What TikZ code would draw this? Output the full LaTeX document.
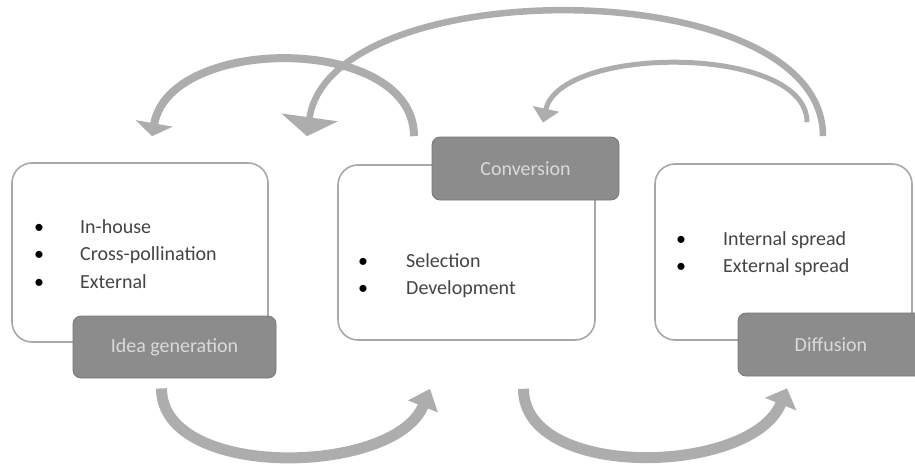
\documentclass[tikz,border=0pt]{standalone}
\usepackage{fontspec}
\setmainfont{Carlito}
\usetikzlibrary{arrows.meta}
\definecolor{boxline}{HTML}{A8A8A8}
\definecolor{labelfill}{HTML}{8C8C8C}
\definecolor{labeltext}{HTML}{DADADA}
\definecolor{flowgray}{HTML}{ADADAD}
\definecolor{listtext}{HTML}{444444}
\begin{document}
\begin{tikzpicture}[
				x=1pt, y=-1pt,                            % one unit = one pixel of the sketch, y going down
				>=Triangle,
				font=\fontsize{20}{27.5}\selectfont,
				stagebox/.style={draw=boxline, line width=1.6pt, rounded corners=20pt, fill=white, inner sep=0pt},
				stagelabel/.style={draw=labelfill!85!black, line width=0.8pt, fill=labelfill, text=labeltext, rounded corners=8pt, inner sep=0pt},
				bulletlist/.style={anchor=base west, inner sep=0pt, align=left, text=listtext},
				flow/.style={draw=flowgray}
				]
				\useasboundingbox (0,0) rectangle (915,463);
				% the three stages
				\node[stagebox, minimum width=256pt, minimum height=179pt] (ideabox) at (140,252.5) {};
				\node[stagebox, minimum width=257pt, minimum height=175pt] (convbox) at (466.5,252.5) {};
				\node[stagebox, minimum width=257pt, minimum height=176pt] (diffbox) at (783.5,252) {};
				% bullet lists
				\node[bulletlist] (idealist) at (34,233) {\begin{tabular}[t]{@{}p{46pt}@{}l@{}}\textcolor{black}{\textbullet} & In-house\\ \textcolor{black}{\textbullet} & Cross-pollination\\ \textcolor{black}{\textbullet} & External\end{tabular}};
				\node[bulletlist] (convlist) at (358,267) {\begin{tabular}[t]{@{}p{48pt}@{}l@{}}\textcolor{black}{\textbullet} & Selection\\ \textcolor{black}{\textbullet} & Development\end{tabular}};
				\node[bulletlist] (difflist) at (676,245) {\begin{tabular}[t]{@{}p{47pt}@{}l@{}}\textcolor{black}{\textbullet} & Internal spread\\ \textcolor{black}{\textbullet} & External spread\end{tabular}};
				% grey tabs
				\node[stagelabel, minimum width=203pt, minimum height=62pt] (idealabel) at (174.5,347) {Idea generation};
				\node[stagelabel, minimum width=187pt, minimum height=63pt] (convlabel) at (525.5,168.5) {Conversion};
				\node[stagelabel, minimum width=186pt, minimum height=63pt] (difflabel) at (831,344.5) {Diffusion};
				% forward arrows below
				\draw[flow, line width=11pt, -{Triangle[width=31pt,length=19pt]}]
					([xshift=-13pt,yshift=-10pt]idealabel.south) .. controls +(0,92) and +(-35,87) .. ([xshift=-36.5pt,yshift=-48pt]convbox.south);
				\draw[flow, line width=11pt, -{Triangle[width=33pt,length=17pt]}]
					([xshift=57pt,yshift=-48pt]convbox.south) .. controls +(0,92) and +(-35,87) .. ([xshift=-44pt,yshift=-12pt]difflabel.south);
				% feedback arrows above
				\draw[flow, line width=8pt, -{Triangle[width=37pt,length=13pt]}]
					([xshift=-52.5pt,yshift=28pt]convbox.north) .. controls +(0,-102) and +(18,-102) .. ([xshift=12pt,yshift=26pt]ideabox.north);
				\draw[flow, line width=6.5pt, -{Triangle[width=56pt,length=19pt]}]
					([xshift=39.5pt,yshift=27pt]diffbox.north) .. controls +(0,-165) and +(23,-165) .. ([xshift=-159.5pt,yshift=28pt]convbox.north);
				\draw[flow, line width=5pt, -{Triangle[width=26pt,length=14pt]}]
					([xshift=23.5pt,yshift=41pt]diffbox.north) .. controls +(0,-78) and +(17,-78) .. ([xshift=17.5pt,yshift=14pt]convlabel.north);
			\end{tikzpicture}
\end{document}
